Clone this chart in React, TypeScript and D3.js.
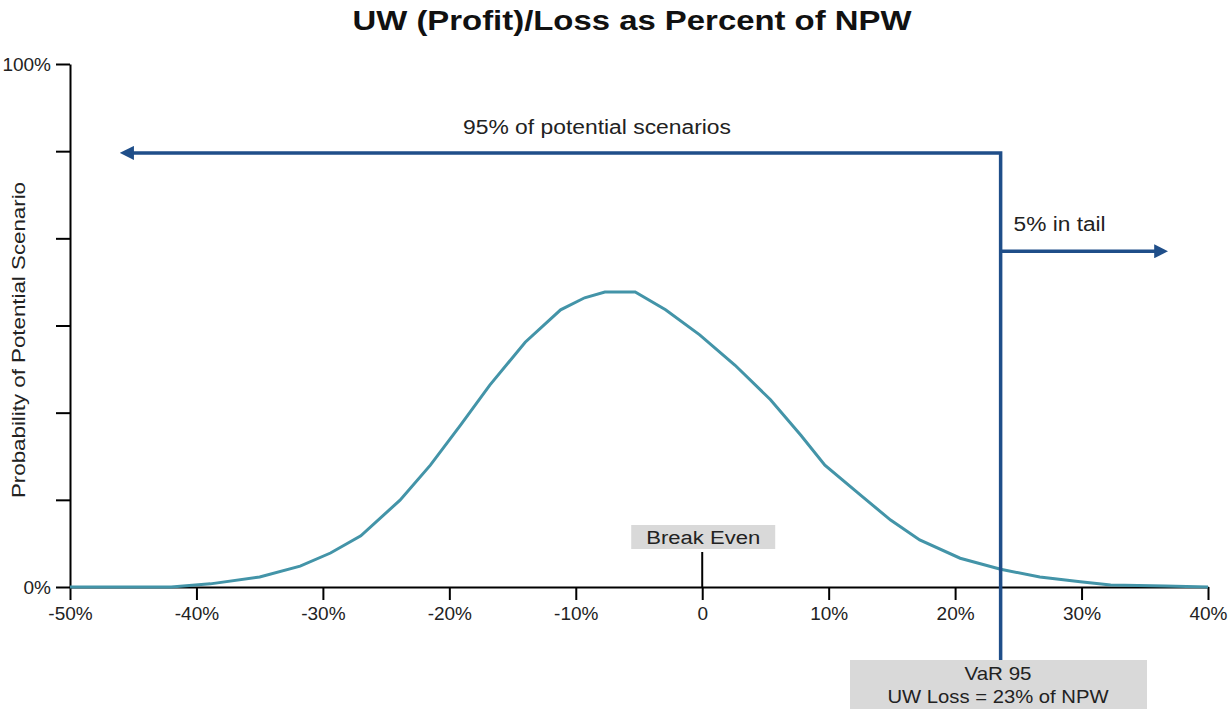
import { useEffect, useRef } from 'react';
import * as d3 from 'd3';

// x = underwriting (profit)/loss in % of NPW, y = probability in %
const lossPct = [
  -50, -42, -38.9, -35, -31.8, -29.4, -27, -23.9, -21.5, -19.1, -16.8, -14, -11.2, -9.3, -7.7,
  -5.3, -2.9, -0.2, 2.6, 5.4, 7.8, 9.7, 12.5, 14.9, 17.2, 20.4, 23.6, 26.7, 29.9, 32.3, 36.6, 40,
];
const probPct = [
  0, 0, 0.6, 1.9, 4, 6.5, 9.8, 16.6, 23.3, 31, 38.6, 46.8, 53, 55.3, 56.4,
  56.4, 53, 48.2, 42.4, 35.8, 29, 23.3, 17.6, 12.8, 9, 5.5, 3.4, 1.9, 1, 0.4, 0.2, 0,
];
const xTicks = [-50, -40, -30, -20, -10, 0, 10, 20, 30, 40];
const yTicks = [0, 100 / 6, 200 / 6, 50, 400 / 6, 500 / 6, 100];
const yLabels = ['0%', '100%'];
const varValue = 23.6;
const arrowLevels = [83, 64.2]; // y-values of the "95%" and "5%" arrows
const arrowEnds = [-45.8, 36.6];

const App: React.FC = () => {
  const svgRef = useRef<SVGSVGElement | null>(null);

  useEffect(() => {
    if (svgRef.current === null) return;
    const width = 1232;
    const height = 709;
    const font = '"Liberation Sans", Arial, sans-serif';
    const navy = '#1f4e89';
    const txt = '#222';

    const svg = d3.select(svgRef.current).attr('width', width).attr('height', height);
    svg.selectAll('*').remove();

    const x = d3.scaleLinear().domain([-50, 40]).range([70, 1208]);
    const y = d3.scaleLinear().domain([0, 100]).range([587, 64]);

    // helper for stretched labels
    const label = (
      tx: number,
      ty: number,
      s: string,
      size: number,
      len: number,
      anchor = 'middle',
    ) =>
      svg
        .append('text')
        .attr('x', tx)
        .attr('y', ty)
        .attr('text-anchor', anchor)
        .attr('font-family', font)
        .attr('font-size', size)
        .attr('fill', txt)
        .attr('textLength', len)
        .attr('lengthAdjust', 'spacingAndGlyphs')
        .text(s);

    // arrow marker
    svg
      .append('defs')
      .append('marker')
      .attr('id', 'arr')
      .attr('viewBox', '0 0 10 10')
      .attr('refX', 2)
      .attr('refY', 5)
      .attr('markerWidth', 4)
      .attr('markerHeight', 4)
      .attr('orient', 'auto')
      .append('path')
      .attr('d', 'M0,0 L10,5 L0,10 Z')
      .attr('fill', navy);

    // title
    label(632, 30, 'UW (Profit)/Loss as Percent of NPW', 28, 559)
      .attr('font-weight', 'bold')
      .attr('fill', '#111');

    // y axis
    const yAxis = svg
      .append('g')
      .attr('transform', `translate(${x(-50)},0)`)
      .call(d3.axisLeft(y).tickValues(yTicks).tickSize(14).tickSizeOuter(0).tickFormat(() => ''));
    yAxis.selectAll('path, line').attr('stroke', '#000').attr('stroke-width', 2);

    yLabels.forEach((lab, i) => {
      svg
        .append('text')
        .attr('x', 51)
        .attr('y', y(i * 100) + 7)
        .attr('text-anchor', 'end')
        .attr('font-family', font)
        .attr('font-size', 19)
        .attr('fill', txt)
        .text(lab);
    });

    label(0, 0, 'Probability of Potential Scenario', 19, 316).attr(
      'transform',
      `translate(25,${340}) rotate(-90)`,
    );

    // x axis
    const xAxis = svg
      .append('g')
      .attr('transform', `translate(0,${y(0)})`)
      .call(
        d3
          .axisBottom(x)
          .tickValues(xTicks)
          .tickSize(13)
          .tickSizeOuter(0)
          .tickPadding(7)
          .tickFormat((d) => (+d === 0 ? '0' : `${d}%`)),
      );
    xAxis.selectAll('path, line').attr('stroke', '#000').attr('stroke-width', 2);
    xAxis
      .selectAll('text')
      .attr('font-family', font)
      .attr('font-size', 19)
      .attr('fill', txt);

    // curve
    const line = d3
      .line<number>()
      .x((_, i) => x(lossPct[i]))
      .y((d) => y(d));
    svg
      .append('path')
      .datum(probPct)
      .attr('d', line)
      .attr('fill', 'none')
      .attr('stroke', '#4394a8')
      .attr('stroke-width', 3);

    // break even marker
    svg
      .append('line')
      .attr('x1', x(0))
      .attr('x2', x(0))
      .attr('y1', y(0) - 35)
      .attr('y2', y(0))
      .attr('stroke', '#000')
      .attr('stroke-width', 2);
    svg
      .append('rect')
      .attr('x', x(0) - 71)
      .attr('y', 525)
      .attr('width', 144)
      .attr('height', 24)
      .attr('fill', '#d9d9d9');
    label(x(0) + 1, 544, 'Break Even', 18, 114);

    // VaR box
    svg
      .append('rect')
      .attr('x', 850)
      .attr('y', 660)
      .attr('width', 297)
      .attr('height', 60)
      .attr('fill', '#d9d9d9');
    label(998, 680, 'VaR 95', 19, 67);
    label(998, 703, 'UW Loss = 23% of NPW', 19, 221);

    // VaR lines and arrows
    const vx = x(varValue);
    svg
      .append('path')
      .attr('d', `M${vx},660 L${vx},${y(arrowLevels[0])} L${x(arrowEnds[0]) + 8},${y(arrowLevels[0])}`)
      .attr('fill', 'none')
      .attr('stroke', navy)
      .attr('stroke-width', 3.5)
      .attr('stroke-linejoin', 'miter')
      .attr('marker-end', 'url(#arr)');
    svg
      .append('line')
      .attr('x1', vx)
      .attr('x2', x(arrowEnds[1]) - 8)
      .attr('y1', y(arrowLevels[1]))
      .attr('y2', y(arrowLevels[1]))
      .attr('stroke', navy)
      .attr('stroke-width', 3.5)
      .attr('marker-end', 'url(#arr)');

    label(597, 134, '95% of potential scenarios', 20, 268);
    label(vx + 13, 231, '5% in tail', 20, 92, 'start');
  }, []);

  return (
    <svg
      ref={svgRef}
      style={{ position: 'absolute', left: 0, top: 0, display: 'block', background: '#fff' }}
    ></svg>
  );
};

export default App;
